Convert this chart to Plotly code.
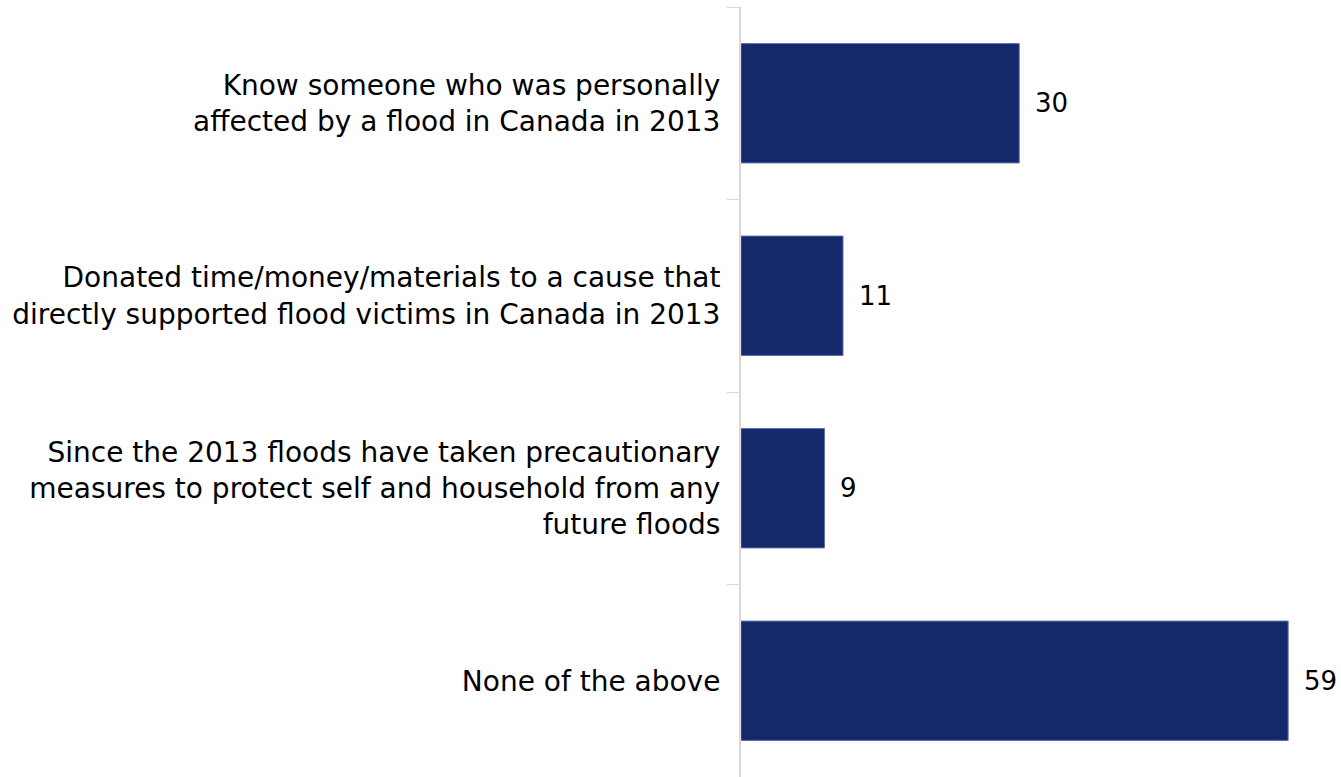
import plotly.graph_objects as go

categories = [
    "Know someone who was personally<br>affected by a flood in Canada in 2013",
    "Donated time/money/materials to a cause that<br>directly supported flood victims in Canada in 2013",
    "Since the 2013 floods have taken precautionary<br>measures to protect self and household from any<br>future floods",
    "None of the above",
]
values = [30, 11, 9, 59]

FONT = "DejaVu Sans"
fig = go.Figure()
fig.add_trace(go.Bar(
    x=values, y=categories, orientation="h",
    marker=dict(color="#15286A", line=dict(color="#5a6fae", width=1)),
    width=0.62,
))
for v, c in zip(values, categories):
    fig.add_annotation(x=v, y=c, text=str(v), showarrow=False, xanchor="left",
                       xshift=14, font=dict(family=FONT, size=26, color="#000000"))

fig.update_layout(
    width=1341, height=777,
    margin=dict(l=741, r=0, t=7, b=0),
    plot_bgcolor="white", paper_bgcolor="white",
    showlegend=False,
    font=dict(family=FONT, size=28, color="#000000"),
    xaxis=dict(range=[0, 64.7], visible=False),
    yaxis=dict(autorange="reversed", type="category", tickson="boundaries",
               ticks="outside", ticklen=12, tickcolor="#d9d9d9", tickwidth=1,
               showline=True, linecolor="#d9d9d9", linewidth=2,
               showgrid=False, ticklabelstandoff=13),
)
fig.write_html("out.html", config={"displayModeBar": False},
               post_script="document.body.style.margin='0';document.body.style.overflow='hidden';")
